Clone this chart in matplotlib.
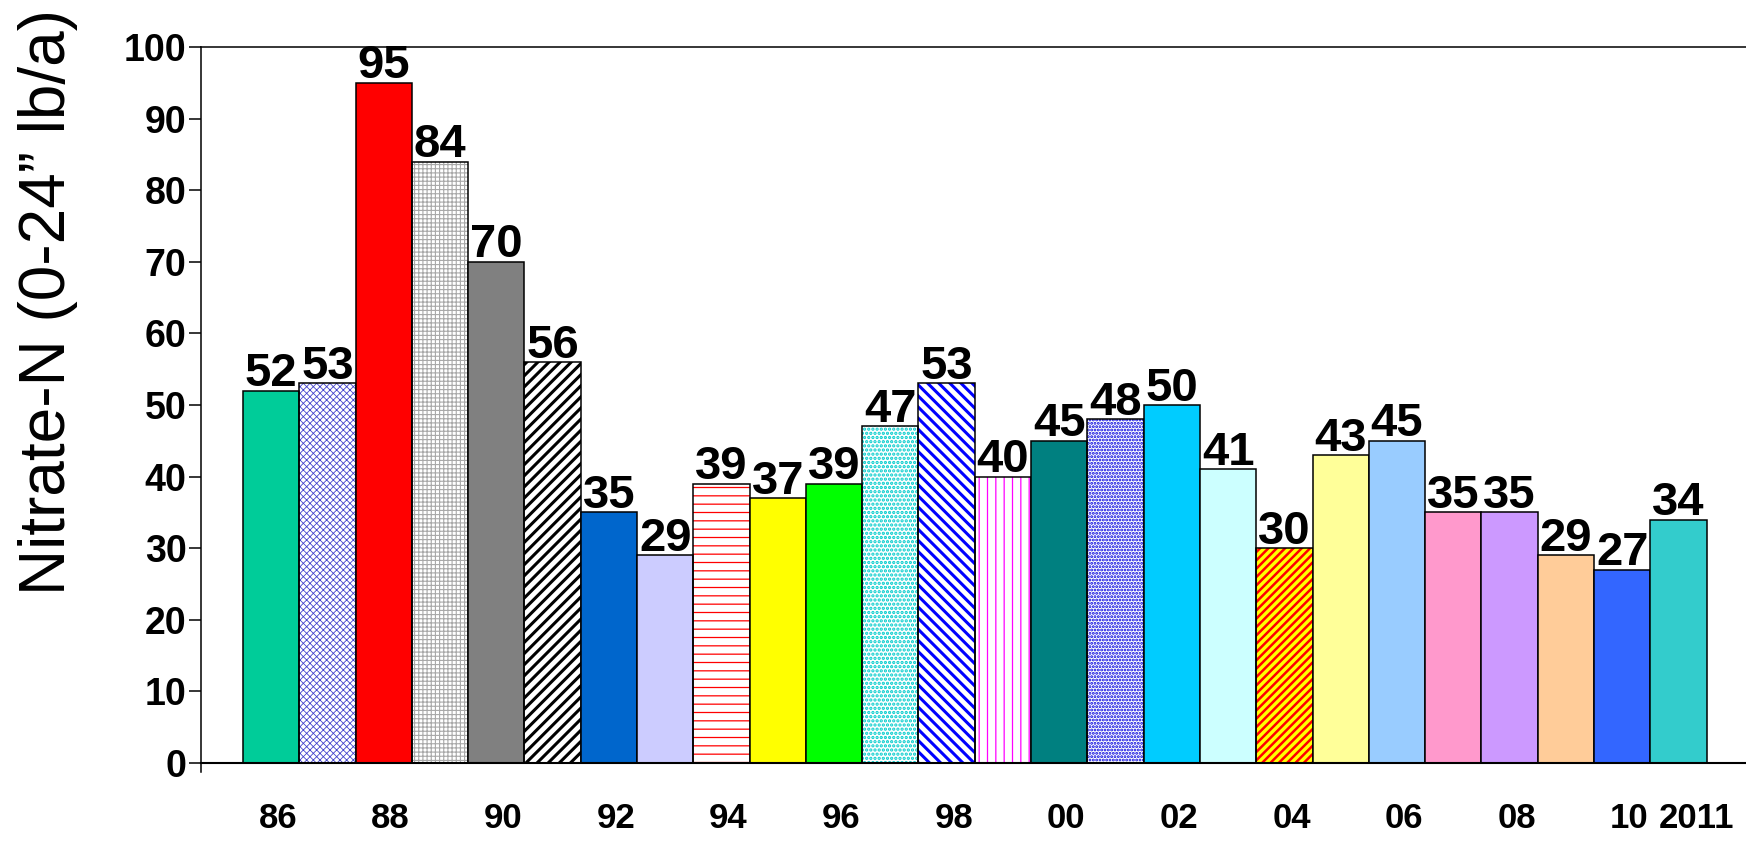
import matplotlib
matplotlib.use("Agg")
import matplotlib.pyplot as plt
from matplotlib.transforms import ScaledTranslation

# Soil nitrate-N by year
years = list(range(1986, 2012))
values = [52, 53, 95, 84, 70, 56, 35, 29, 39, 37, 39, 47, 53, 40, 45, 48, 50, 41,
          30, 43, 45, 35, 35, 29, 27, 34]
tick_positions = [0, 2, 4, 6, 8, 10, 12, 14, 16, 18, 20, 22, 24, 25]
tick_labels = ["86", "88", "90", "92", "94", "96", "98", "00", "02", "04", "06",
               "08", "10", "2011"]

# (face colour, hatch pattern, hatch colour, hatch line width)
styles = [
    ("#00CC99", None, None, 0),
    ("white", "xxxxx", "#4444CC", 0.6),
    ("#FF0000", None, None, 0),
    ("white", "++++", "#A8A8A8", 0.8),
    ("#808080", None, None, 0),
    ("white", "///", "black", 2.2),
    ("#0066CC", None, None, 0),
    ("#CCCCFF", None, None, 0),
    ("white", "--", "#FF0000", 0.9),
    ("#FFFF00", None, None, 0),
    ("#00FF00", None, None, 0),
    ("white", "....", "#00CCCC", 1.6),
    ("white", "\\\\\\", "#0000FF", 2.2),
    ("white", "||", "#FF00FF", 0.9),
    ("#008080", None, None, 0),
    ("white", ".....", "#0000DD", 1.4),
    ("#00CCFF", None, None, 0),
    ("#CCFFFF", None, None, 0),
    ("#FFFF00", "////", "#FF0000", 1.8),
    ("#FFFF99", None, None, 0),
    ("#99CCFF", None, None, 0),
    ("#FF99CC", None, None, 0),
    ("#CC99FF", None, None, 0),
    ("#FFCC99", None, None, 0),
    ("#3366FF", None, None, 0),
    ("#33CCCC", None, None, 0),
]

plt.rcParams["font.family"] = ["Liberation Sans", "DejaVu Sans"]

fig = plt.figure(figsize=(17.46, 8.43), dpi=100)
ax = fig.add_axes([0.1151, 0.0949, 0.8849, 0.8494])

x = list(range(len(values)))
for xi, v, (fc, hatch, hc, hlw) in zip(x, values, styles):
    if hatch:
        with plt.rc_context({"hatch.linewidth": hlw}):
            bars = ax.bar(xi, v, width=1.0, color=fc, edgecolor=hc, linewidth=0,
                          hatch=hatch, zorder=2)
        for b in bars:
            if hasattr(b, "set_hatch_linewidth"):
                b.set_hatch_linewidth(hlw)
        ax.bar(xi, v, width=1.0, fill=False, edgecolor="black", linewidth=1.1,
               zorder=3)
    else:
        ax.bar(xi, v, width=1.0, color=fc, edgecolor="black", linewidth=1.1,
               zorder=3)
    ax.text(xi, v + 0.6, str(v), ha="center", va="baseline", fontsize=34,
            fontweight="bold", zorder=4)

ax.set_xlim(-1.246, 26.2)
ax.set_ylim(0, 100)
ax.set_yticks(range(0, 101, 10))
ax.tick_params(axis="y", direction="out", length=8.5, width=1.1, pad=2,
               labelsize=27)
for lab in ax.get_yticklabels():
    lab.set_fontweight("bold")

ax.set_xticks(tick_positions)
ax.set_xticklabels(tick_labels, fontsize=25, fontweight="bold")
ax.tick_params(axis="x", length=0, pad=28)
for lab in ax.get_xticklabels():
    dx = 18 if lab.get_text() == "2011" else 7
    lab.set_transform(lab.get_transform()
                      + ScaledTranslation(dx / 100, 0, fig.dpi_scale_trans))

ax.spines["right"].set_visible(False)
ax.spines["top"].set_linewidth(1.1)
ax.spines["left"].set_linewidth(1.1)
ax.spines["bottom"].set_linewidth(1.5)
ax.spines["left"].set_bounds(-1.3, 100)
ax.spines["bottom"].set_zorder(5)

fig.text(0.0275, 0.642, "Nitrate-N (0-24\u201d lb/a)", rotation=90, ha="center",
         va="center", fontsize=46)

fig.savefig("out.png", dpi=100)
